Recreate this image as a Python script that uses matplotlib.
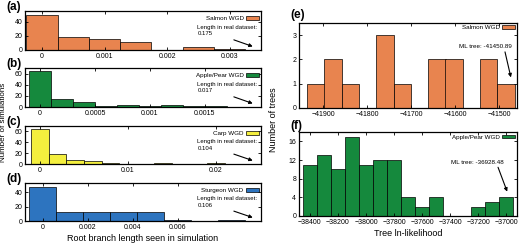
import matplotlib
matplotlib.use('Agg')
import matplotlib.pyplot as plt

plt.rcParams['font.family'] = ['Liberation Sans', 'DejaVu Sans']

# ---------------- data ----------------
# (a) Salmon WGD root branch length histogram
salmon_len_centers = [0.0, 0.0005, 0.001, 0.0015, 0.002, 0.0025, 0.003]
salmon_len_counts = [50, 19, 15, 11, 0, 4, 1]
salmon_len_width = 0.0005
salmon_real = "0.175"

# (b) Apple/Pear WGD
apple_len_centers = [0.0, 0.0002, 0.0004, 0.0006, 0.0008, 0.001, 0.0012, 0.0014, 0.0016]
apple_len_counts = [64, 14, 9, 1, 4, 1, 3, 1, 1]
apple_len_width = 0.0002
apple_real = "0.017"

# (c) Carp WGD
carp_len_centers = [0.0, 0.002, 0.004, 0.006, 0.008, 0.014, 0.02]
carp_len_counts = [65, 19, 7, 6, 1, 1, 1]
carp_len_width = 0.002
carp_real = "0.104"

# (d) Sturgeon WGD
sturgeon_len_centers = [0.0, 0.0012, 0.0024, 0.0036, 0.0048, 0.006, 0.0072, 0.0084]
sturgeon_len_counts = [47, 12, 13, 12, 13, 2, 0, 1]
sturgeon_len_width = 0.0012
sturgeon_real = "0.106"

# (e) Salmon tree ln-likelihoods
salmon_ll_centers = [-41916, -41877, -41838, -41798, -41759, -41720,
                     -41680, -41641, -41602, -41562, -41523, -41484]
salmon_ll_counts = [1, 2, 1, 0, 3, 1, 0, 2, 2, 0, 2, 1]
salmon_ll_width = 39.3
salmon_ml = "-41450.89"

# (f) Apple/Pear tree ln-likelihoods
apple_ll_centers = [-38400, -38300, -38200, -38100, -38000, -37900, -37800, -37700,
                    -37600, -37500, -37400, -37300, -37200, -37100, -37000]
apple_ll_counts = [11, 13, 10, 17, 11, 12, 12, 4, 2, 4, 0, 0, 2, 3, 4]
apple_ll_width = 100
apple_ml = "-36928.48"

c_orange = '#E8844F'
c_green = '#15893D'
c_yellow = '#F4EF3E'
c_blue = '#2D74BF'

W, H = 520, 243
fig = plt.figure(figsize=(W / 100, H / 100), dpi=100)


def axes_px(x0, y0, x1, y1):
    return fig.add_axes([x0 / W, 1 - y1 / H, (x1 - x0) / W, (y1 - y0) / H])


def style(ax, fs=5):
    for s in ax.spines.values():
        s.set_linewidth(0.9)
    ax.tick_params(direction='in', top=True, right=True, length=2.5, width=0.6,
                   labelsize=fs, pad=2)


def legend(ax, bars, label, y=0.93):
    ax.legend([bars], [label], loc='upper right', bbox_to_anchor=(1.0, y),
              frameon=False, markerfirst=False, fontsize=4.5, handlelength=2.0,
              handleheight=0.5, handletextpad=0.4, borderaxespad=0.2, borderpad=0.2)


left_panels = [
    ('(a)', 11, 50, salmon_len_centers, salmon_len_counts, salmon_len_width, c_orange,
     'Salmon WGD', salmon_real, (-0.00027, 0.0035), 55,
     [0, 0.001, 0.002, 0.003], ['0', '0.001', '0.002', '0.003'], [0, 20, 40]),
    ('(b)', 68, 107, apple_len_centers, apple_len_counts, apple_len_width, c_green,
     'Apple/Pear WGD', apple_real, (-0.000136, 0.00201), 70,
     [0, 0.0005, 0.001, 0.0015], ['0', '0.0005', '0.001', '0.0015'], [0, 20, 40, 60]),
    ('(c)', 126, 164, carp_len_centers, carp_len_counts, carp_len_width, c_yellow,
     'Carp WGD', carp_real, (-0.0017, 0.0251), 70,
     [0, 0.01, 0.02], ['0', '0.01', '0.02'], [0, 20, 40, 60]),
    ('(d)', 183, 221, sturgeon_len_centers, sturgeon_len_counts, sturgeon_len_width, c_blue,
     'Sturgeon WGD', sturgeon_real, (-0.0008, 0.0097), 53,
     [0, 0.002, 0.004, 0.006], ['0', '0.002', '0.004', '0.006'], [0, 20, 40]),
]

for (lab, y0, y1, centers, counts, width, col, name, real, xl, ytop,
     xt, xtl, yt) in left_panels:
    ax = axes_px(25, y0, 261, y1)
    bars = ax.bar(centers, counts, width=width, color=col, edgecolor='black',
                  linewidth=0.5, align='center')
    ax.set_xlim(*xl)
    ax.set_ylim(0, ytop)
    ax.set_xticks(xt)
    ax.set_xticklabels(xtl)
    ax.set_yticks(yt)
    style(ax)
    legend(ax, bars, name)
    ax.text(0.73, 0.50, 'Length in real dataset:\n' + real, transform=ax.transAxes,
            fontsize=4.3, va='center', ha='left', linespacing=1.3)
    ax.annotate('', xy=(0.965, 0.09), xytext=(0.885, 0.26), xycoords='axes fraction',
                arrowprops=dict(arrowstyle='-|>', color='black', lw=0.8,
                                mutation_scale=5, shrinkA=0, shrinkB=0))
    fig.text(6 / W, 1 - (y0 - 4) / H, lab, fontsize=8.5, fontweight='bold',
             ha='left', va='center')

fig.text(3.5 / W, 1 - 122 / H, 'Number of simulations', rotation=90, fontsize=5.8,
         ha='center', va='center')
fig.text(143 / W, 1 - 238 / H, 'Root branch length seen in simulation', fontsize=6.5,
         ha='center', va='center')

# (e)
ax = axes_px(299, 23, 517, 108)
bars = ax.bar(salmon_ll_centers, salmon_ll_counts, width=salmon_ll_width, color=c_orange,
              edgecolor='black', linewidth=0.5)
ax.set_xlim(-41954.5, -41459)
ax.set_ylim(0, 3.5)
ax.set_xticks([-41900, -41800, -41700, -41600, -41500])
ax.set_yticks([0, 1, 2, 3])
style(ax)
legend(ax, bars, 'Salmon WGD', y=1.0)
ax.text(0.975, 0.72, 'ML tree: ' + salmon_ml, transform=ax.transAxes, fontsize=4.5,
        ha='right', va='center')
ax.annotate('', xy=(0.972, 0.36), xytext=(0.945, 0.66), xycoords='axes fraction',
            arrowprops=dict(arrowstyle='-|>', color='black', lw=0.8,
                            mutation_scale=5, shrinkA=0, shrinkB=0))
fig.text(290 / W, 1 - 15 / H, '(e)', fontsize=8.5, fontweight='bold', ha='left', va='center')

# (f)
ax = axes_px(299, 132, 517, 216)
bars = ax.bar(apple_ll_centers, apple_ll_counts, width=apple_ll_width, color=c_green,
              edgecolor='black', linewidth=0.5)
ax.set_xlim(-38478, -36922)
ax.set_ylim(0, 18)
ax.set_xticks([-38400, -38200, -38000, -37800, -37600, -37400, -37200, -37000])
ax.set_yticks([0, 4, 8, 12, 16])
style(ax)
legend(ax, bars, 'Apple/Pear WGD', y=1.0)
ax.text(0.94, 0.64, 'ML tree: ' + apple_ml, transform=ax.transAxes, fontsize=4.5,
        ha='right', va='center')
ax.annotate('', xy=(0.955, 0.29), xytext=(0.913, 0.58), xycoords='axes fraction',
            arrowprops=dict(arrowstyle='-|>', color='black', lw=0.8,
                            mutation_scale=5, shrinkA=0, shrinkB=0))
ax.set_xlabel('Tree ln-likelihood', fontsize=6.5, labelpad=2)
fig.text(290 / W, 1 - 126 / H, '(f)', fontsize=8.5, fontweight='bold', ha='left', va='center')

fig.text(274 / W, 1 - 120 / H, 'Number of trees', rotation=90, fontsize=6.5,
         ha='center', va='center')

fig.savefig('out.png', dpi=100)
